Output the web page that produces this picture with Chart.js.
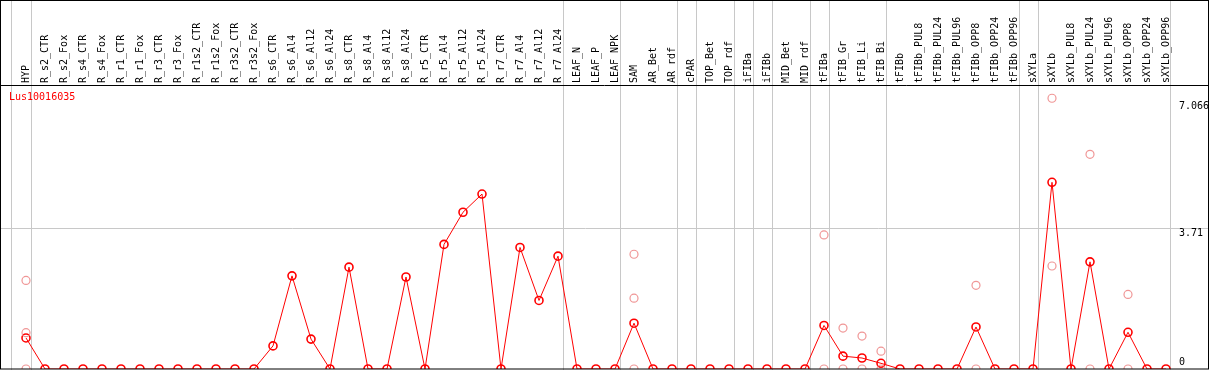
<!DOCTYPE html>
<html>
<head>
<meta charset="utf-8">
<script src="https://cdn.jsdelivr.net/npm/chart.js@4.4.0/dist/chart.umd.min.js"></script>
<style>
  body { margin: 0; background: #fff; }
  canvas { display: block; }
</style>
</head>
<body>
<canvas id="chart" width="1209" height="370"></canvas>
<script>
var sampleLabels = ["HYP", "R_s2_CTR", "R_s2_Fox", "R_s4_CTR", "R_s4_Fox", "R_r1_CTR", "R_r1_Fox",
  "R_r3_CTR", "R_r3_Fox", "R_r1s2_CTR", "R_r1s2_Fox", "R_r3s2_CTR", "R_r3s2_Fox",
  "R_s6_CTR", "R_s6_Al4", "R_s6_Al12", "R_s6_Al24", "R_s8_CTR", "R_s8_Al4", "R_s8_Al12", "R_s8_Al24",
  "R_r5_CTR", "R_r5_Al4", "R_r5_Al12", "R_r5_Al24", "R_r7_CTR", "R_r7_Al4", "R_r7_Al12", "R_r7_Al24",
  "LEAF_N", "LEAF_P", "LEAF_NPK", "SAM", "AR_Bet", "AR_rdf", "cPAR", "TOP_Bet", "TOP_rdf",
  "iFIBa", "iFIBb", "MID_Bet", "MID_rdf", "tFIBa", "tFIB_Gr", "tFIB_Li", "tFIB_Bi",
  "tFIBb", "tFIBb_PUL8", "tFIBb_PUL24", "tFIBb_PUL96", "tFIBb_OPP8", "tFIBb_OPP24", "tFIBb_OPP96",
  "sXYLa", "sXYLb", "sXYLb_PUL8", "sXYLb_PUL24", "sXYLb_PUL96", "sXYLb_OPP8", "sXYLb_OPP24", "sXYLb_OPP96"];

// mean expression per sample
var meanValues = [0.82, 0, 0, 0, 0, 0, 0, 0, 0, 0, 0, 0, 0,
  0.61, 2.46, 0.79, 0, 2.69, 0, 0, 2.43,
  0, 3.29, 4.14, 4.62, 0, 3.21, 1.81, 2.98,
  0, 0, 0, 1.21, 0, 0, 0, 0, 0,
  0, 0, 0, 0, 1.15, 0.34, 0.29, 0.15,
  0, 0, 0, 0, 1.11, 0, 0,
  0, 4.93, 0, 2.83, 0, 0.97, 0, 0];

// individual replicates (sample index, value)
var repIndex = [0, 0, 0, 32, 32, 32, 42, 42, 43, 43, 44, 44, 45, 45, 50, 50, 54, 54, 56, 56, 58, 58];
var repValue = [2.34, 0.96, 0, 3.03, 1.87, 0, 3.54, 0, 1.08, 0, 0.87, 0, 0.47, 0, 2.21, 0, 7.15, 2.72, 5.67, 0, 1.97, 0];

// group separators, placed between samples
var separators = [-0.8, 0.25, 28.25, 31.25, 34.25, 35.25, 37.25, 38.25, 39.25, 41.25, 42.25, 45.25, 52.25, 53.25, 60.23];

var yTicks = [0, 3.71, 7.066];
var yTickLabels = [["0", "", ""], "3.71", "7.066"];
var geneName = "Lus10016035";

var monoFont = { family: "'DejaVu Sans Mono', monospace", size: 10, lineHeight: 1.2 };

var framePlugin = {
  id: 'frame',
  beforeDatasetsDraw: function (chart) {
    var ctx = chart.ctx;
    var xs = chart.scales.x;
    ctx.save();
    ctx.strokeStyle = '#c8c8c8';
    ctx.lineWidth = 1;
    separators.forEach(function (s) {
      var px = Math.round(xs.getPixelForValue(s)) + 0.5;
      ctx.beginPath();
      ctx.moveTo(px, 0);
      ctx.lineTo(px, chart.height);
      ctx.stroke();
    });
    ctx.restore();
  },
  afterDraw: function (chart) {
    var ctx = chart.ctx;
    var area = chart.chartArea;
    ctx.save();
    ctx.strokeStyle = '#000';
    ctx.lineWidth = 1;
    ctx.strokeRect(0.5, 0.5, chart.width - 1, area.bottom - 0.5);
    ctx.beginPath();
    ctx.moveTo(0, area.top + 0.5);
    ctx.lineTo(chart.width, area.top + 0.5);
    ctx.stroke();
    ctx.fillStyle = '#ff0000';
    ctx.font = "10px 'DejaVu Sans Mono', monospace";
    ctx.textBaseline = 'middle';
    ctx.fillText(geneName, 9, 97);
    ctx.restore();
  }
};

new Chart(document.getElementById('chart'), {
  type: 'line',
  data: {
    datasets: [
      {
        label: 'replicates',
        data: repIndex.map(function (idx, k) { return { x: idx, y: repValue[k] }; }),
        showLine: false,
        pointStyle: 'circle',
        pointRadius: 4,
        pointBorderWidth: 1.2,
        pointBorderColor: 'rgb(240,150,150)',
        pointBackgroundColor: 'rgba(0,0,0,0)'
      },
      {
        label: geneName,
        data: meanValues.map(function (v, i) { return { x: i, y: v }; }),
        borderColor: '#ff0000',
        borderWidth: 1,
        tension: 0,
        pointStyle: 'circle',
        pointRadius: 4,
        pointBorderWidth: 1.6,
        pointBorderColor: '#ff0000',
        pointBackgroundColor: 'rgba(0,0,0,0)'
      }
    ]
  },
  options: {
    responsive: false,
    devicePixelRatio: 1,
    animation: false,
    layout: { autoPadding: false, padding: { left: 0, right: 0, top: 0, bottom: 1 } },
    plugins: {
      legend: { display: false },
      tooltip: { enabled: false },
      title: { display: false }
    },
    scales: {
      x: {
        type: 'linear',
        position: 'top',
        min: -26 / 19,
        max: (1171 - 26) / 19,
        afterBuildTicks: function (scale) {
          scale.ticks = sampleLabels.map(function (l, i) { return { value: i }; });
        },
        afterFit: function (scale) { scale.height = 85; },
        ticks: {
          autoSkip: false,
          maxRotation: 90,
          minRotation: 90,
          padding: 2,
          labelOffset: 12,
          color: '#000',
          font: monoFont,
          callback: function (v) { return sampleLabels[v]; }
        },
        grid: { display: false, drawTicks: false },
        border: { display: false }
      },
      y: {
        type: 'linear',
        position: 'right',
        min: 0,
        max: 7.5,
        afterBuildTicks: function (scale) {
          scale.ticks = yTicks.map(function (v) { return { value: v }; });
        },
        afterFit: function (scale) { scale.width = 38; },
        ticks: {
          padding: -30,
          labelOffset: 5,
          color: '#000',
          font: monoFont,
          callback: function (v) { return yTickLabels[yTicks.indexOf(v)]; }
        },
        grid: {
          drawTicks: true,
          tickLength: 38,
          lineWidth: 1,
          color: function (c) { return c.tick && c.tick.value === 3.71 ? '#c8c8c8' : 'rgba(0,0,0,0)'; }
        },
        border: { display: false }
      }
    }
  },
  plugins: [framePlugin]
});
</script>
</body>
</html>
